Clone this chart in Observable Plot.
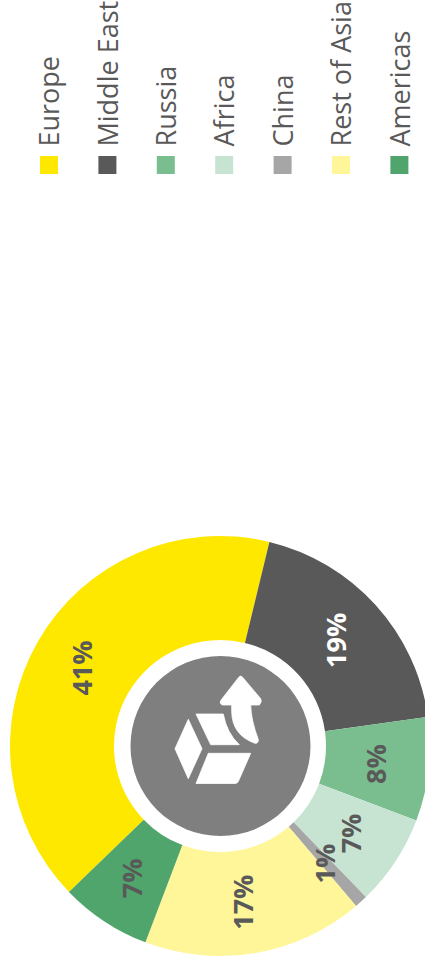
<!DOCTYPE html>
<html>
<head>
<meta charset="utf-8">
<script src="https://cdn.jsdelivr.net/npm/d3@7"></script>
<script src="https://cdn.jsdelivr.net/npm/@observablehq/plot@0.6"></script>
<style>
html,body{margin:0;padding:0;background:#fff;overflow:hidden}
svg{display:block}
</style>
</head>
<body>
<div id="chart"></div>
<script>
const regions = ["Europe","Middle East","Russia","Africa","China","Rest of Asia","Americas"];
const shares = [41,19,8,7,1,17,7];
const colors = ["#ffe800","#595959","#7abd8f","#c7e4d2","#a6a6a6","#fff599","#4fa56b"];
const labels = ["41%","19%","8%","7%","1%","17%","7%"];

const W = 425, H = 968;
const cx = 220, cy = 746, rOuter = 210, rInner = 106, rHub = 90;
const startDeg = 226;
const ink = "#595959";
const font = "'Open Sans'";

const pie = d3.pie().sort(null).value(d => d.share)
  .startAngle(startDeg * Math.PI / 180)
  .endAngle((startDeg + 360) * Math.PI / 180);
const arc = d3.arc().innerRadius(rInner).outerRadius(rOuter);
const rows = regions.map((region, i) => ({region, share: shares[i], color: colors[i], label: labels[i], i}));
const slices = pie(rows).map(s => {
  const [dx, dy] = arc.centroid(s);
  return {...s, lx: cx + dx, ly: cy + dy};
});

const legendX = i => 49 + i * 58.4;

const iconPaths = [
  "M188.3 719.3L202 748.7L188.3 778.7L175 748.7Z",
  "M208.3 753.3H250.7L238.5 781Q237.5 783.5 235 783.5H196Z",
  "M196 714H223.3Q226.7 733 239.3 744.7H210.7Z",
  "M238.8 677.2Q240.7 675 242.6 677.2L260.6 698.6Q262.5 701.5 259.3 705H250.7Q251 720 258.3 739.5Q258.5 743.5 255 743.3Q232 735 231.7 711.7V705H222.7Q219 704 220.9 700.3Z"
];

const slicesMark = (index, {x, y}) => {
  const g = d3.create("svg:g").attr("transform", `translate(${x(cx)},${y(cy)})`);
  g.selectAll("path").data(slices).join("path")
    .attr("d", arc).attr("fill", d => d.data.color);
  return g.node();
};
const iconMark = () => {
  const g = d3.create("svg:g").attr("fill", "#fff");
  g.selectAll("path").data(iconPaths).join("path")
    .attr("d", d => d).attr("stroke", "#fff").attr("stroke-width", 0.8).attr("stroke-linejoin", "round");
  return g.node();
};

const plot = Plot.plot({
  width: W, height: H, margin: 0,
  style: {background: "#fff", fontFamily: font},
  x: {domain: [0, W], range: [0, W], axis: null},
  y: {domain: [0, H], range: [0, H], axis: null},
  marks: [
    Plot.rect(rows, {
      x1: d => legendX(d.i) - 9, x2: d => legendX(d.i) + 9,
      y1: 156, y2: 174, fill: d => d.color, inset: 0
    }),
    Plot.text(rows, {
      x: d => legendX(d.i) + 1, y: 146, text: d => d.region, rotate: -90,
      textAnchor: "start", fontSize: 27, fill: ink, fontFamily: font
    }),
    slicesMark,
    Plot.dot([0], {x: () => cx, y: () => cy - 0.5, r: rHub, fill: "#7f7f7f"}),
    iconMark,
    Plot.text(slices, {
      x: d => d.lx - (d.data.region === "Rest of Asia" ? 3 : 0), y: "ly", text: d => d.data.label, rotate: -90,
      fontSize: 27, fontWeight: 700, fontFamily: font,
      fill: d => d.data.region === "Middle East" ? "#fff" : ink
    })
  ]
});
document.getElementById("chart").append(plot);
</script>
</body>
</html>
